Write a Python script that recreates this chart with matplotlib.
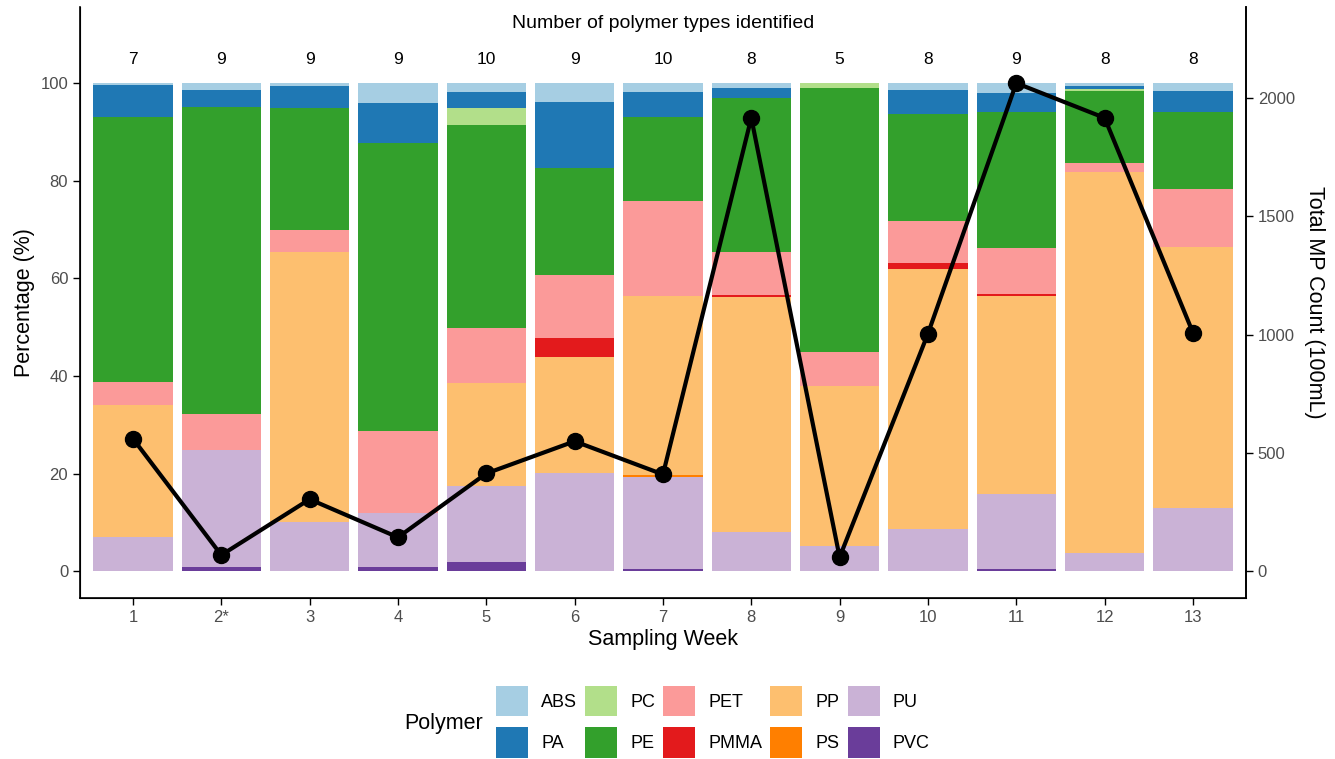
#! /usr/bin/env python3
# stacked polymer composition per sampling week with total MP count on a second axis
import numpy as np
import matplotlib
matplotlib.use("Agg")
import matplotlib.pyplot as plt
from matplotlib.patches import Patch

plt.rcParams['font.family'] = ['Liberation Sans', 'DejaVu Sans']

weeks = ["1", "2*", "3", "4", "5", "6", "7", "8", "9", "10", "11", "12", "13"]

# percentages per polymer, stacked bottom -> top
PVC = [0.0, 0.8, 0.0, 0.8, 1.9, 0.0, 0.5, 0.0, 0.0, 0.0, 0.4, 0.0, 0.0]
PU = [6.9, 24.0, 10.0, 11.1, 15.5, 20.2, 18.8, 8.0, 5.1, 8.6, 15.4, 3.7, 12.9]
PS = [0.0, 0.0, 0.0, 0.0, 0.0, 0.0, 0.5, 0.0, 0.0, 0.0, 0.0, 0.0, 0.0]
PP = [27.1, 0.0, 55.4, 0.0, 21.1, 23.7, 36.6, 48.2, 32.8, 53.3, 40.6, 78.1, 53.5]
PMMA = [0.0, 0.0, 0.0, 0.0, 0.0, 3.8, 0.0, 0.3, 0.0, 1.2, 0.4, 0.0, 0.0]
PET = [4.7, 7.4, 4.5, 16.8, 11.3, 13.0, 19.4, 8.9, 7.0, 8.6, 9.4, 1.8, 11.9]
PE = [54.3, 62.9, 25.0, 59.0, 41.6, 21.9, 17.2, 31.6, 54.1, 21.9, 27.9, 14.8, 15.8]
PC = [0.0, 0.0, 0.0, 0.0, 3.5, 0.0, 0.0, 0.0, 1.0, 0.0, 0.0, 0.3, 0.0]
PA = [6.7, 3.5, 4.5, 8.2, 3.3, 13.5, 5.1, 2.0, 0.0, 5.0, 3.9, 0.8, 4.3]
ABS = [0.3, 1.4, 0.6, 4.1, 1.8, 3.9, 1.9, 1.0, 0.0, 1.4, 2.0, 0.5, 1.6]

total_count = [560, 68, 304, 143, 413, 549, 409, 1916, 59, 1004, 2063, 1916, 1008]
n_types = [7, 9, 9, 9, 10, 9, 10, 8, 5, 8, 9, 8, 8]

polymers = ["ABS", "PA", "PC", "PE", "PET", "PMMA", "PP", "PS", "PU", "PVC"]
colors = {"ABS": "#A6CEE3", "PA": "#1F78B4", "PC": "#B2DF8A", "PE": "#33A02C",
          "PET": "#FB9A99", "PMMA": "#E31A1C", "PP": "#FDBF6F", "PS": "#FF7F00",
          "PU": "#CAB2D6", "PVC": "#6A3D9A"}
stack = [("PVC", PVC), ("PU", PU), ("PS", PS), ("PP", PP), ("PMMA", PMMA),
         ("PET", PET), ("PE", PE), ("PC", PC), ("PA", PA), ("ABS", ABS)]

fig = plt.figure(figsize=(13.35, 7.59), dpi=100)
ax = fig.add_axes([0.0599, 0.2121, 0.8734, 0.7787])

x = np.arange(1, len(weeks) + 1)
bottom = np.zeros(len(weeks))
for name, vals in stack:
    vals = np.array(vals)
    ax.bar(x, vals, bottom=bottom, width=0.9, color=colors[name], linewidth=0)
    bottom += vals

ylo, yhi = -5.5, 115.6
ax.set_ylim(ylo, yhi)
ax.set_xlim(0.4, 13.6)
ax.set_xticks(x)
ax.set_xticklabels(weeks)
ax.set_yticks([0, 20, 40, 60, 80, 100])
ax.set_ylabel("Percentage (%)", fontsize=15.5)
ax.set_xlabel("Sampling Week", fontsize=15.5, labelpad=3)
ax.tick_params(axis='both', labelsize=12, labelcolor='#4D4D4D', length=5, width=1)
ax.spines['top'].set_visible(False)
for s in ['left', 'bottom', 'right']:
    ax.spines[s].set_linewidth(1.2)

# numbers of polymer types above bars
for xi, n in zip(x, n_types):
    ax.text(xi, 104.8, str(n), ha='center', va='center', fontsize=12.5)
ax.text(7, 112.2, "Number of polymer types identified", ha='center', va='center', fontsize=14)

# secondary axis: total MP count
k = max(total_count) / 100
ax2 = ax.twinx()
ax2.set_ylim(ylo * k, yhi * k)
ax2.plot(x, total_count, color='black', lw=3, marker='o', markersize=11.5, zorder=5)
ax2.set_yticks([0, 500, 1000, 1500, 2000])
ax2.set_ylabel("Total MP Count (100mL)", fontsize=15.5, rotation=270, labelpad=22)
ax2.tick_params(axis='y', labelsize=12, labelcolor='#4D4D4D', length=5, width=1)
ax2.spines['top'].set_visible(False)
ax2.spines['right'].set_linewidth(1.2)

handles = [Patch(facecolor=colors[p], edgecolor='none') for p in polymers]
fig.legend(handles, polymers, ncol=5, loc='center', bbox_to_anchor=(0.534, 0.049),
           frameon=False, fontsize=13, handlelength=1.77, handleheight=2.26,
           columnspacing=0.45, handletextpad=0.72, labelspacing=0.59)
fig.text(0.3025, 0.047, "Polymer", fontsize=15.5, ha='left', va='center')

fig.savefig("out.png", dpi=100)
plt.close('all')
